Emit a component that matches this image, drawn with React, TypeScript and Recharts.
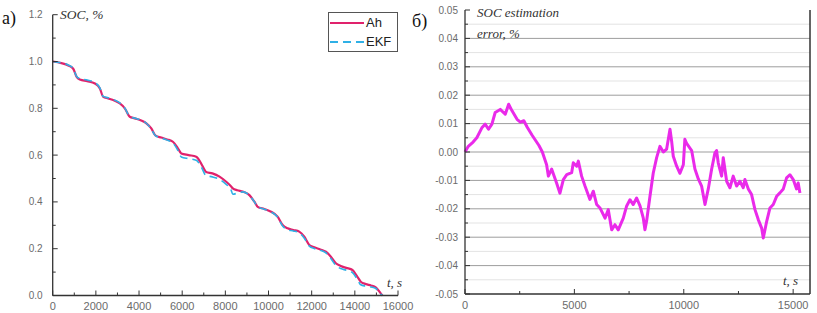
import { LineChart, Line, XAxis, YAxis, ReferenceLine } from 'recharts';

// panel a) SOC, Ah counting vs EKF
const socTime = [
  0, 400, 720, 950, 1110, 1260, 1600, 1955, 2185, 2340, 2570, 2850, 3110, 3340, 3570, 3800,
  4100, 4340, 4570, 4770, 5030, 5300, 5570, 5800, 5960, 6300, 6650, 6880, 7110, 7400, 7730,
  8040, 8250, 8345, 8550, 8805, 9115, 9345, 9500, 9800, 10120, 10420, 10655, 10885, 11150,
  11425, 11660, 11890, 12120, 12400, 12660, 12890, 13120, 13350, 13600, 13890, 14120, 14275,
  14505, 14750, 14970, 15200, 15280,
];
const socAh = [
  1.0, 0.993, 0.983, 0.969, 0.934, 0.923, 0.916, 0.906, 0.885, 0.849, 0.842, 0.833, 0.821, 0.8, 0.764, 0.757,
  0.748, 0.736, 0.714, 0.683, 0.675, 0.667, 0.657, 0.629, 0.607, 0.6, 0.593, 0.564, 0.528, 0.522, 0.508,
  0.486, 0.468, 0.458, 0.45, 0.444, 0.429, 0.401, 0.379, 0.37, 0.358, 0.337, 0.301, 0.287, 0.28,
  0.273, 0.251, 0.216, 0.206, 0.197, 0.187, 0.166, 0.138, 0.126, 0.118, 0.109, 0.08, 0.059,
  0.049, 0.043, 0.035, 0.009, 0.0,
];
const socEkf = [
  1.0, 0.994, 0.985, 0.97, 0.936, 0.927, 0.921, 0.91, 0.887, 0.851, 0.845, 0.836, 0.823, 0.801, 0.765, 0.758,
  0.749, 0.736, 0.711, 0.682, 0.673, 0.664, 0.652, 0.62, 0.592, 0.585, 0.578, 0.55, 0.512, 0.507, 0.496,
  0.475, 0.455, 0.433, 0.437, 0.443, 0.428, 0.4, 0.378, 0.369, 0.357, 0.335, 0.297, 0.281, 0.276,
  0.268, 0.245, 0.211, 0.201, 0.193, 0.182, 0.158, 0.128, 0.115, 0.108, 0.098, 0.068, 0.046,
  0.04, 0.036, 0.03, 0.006, 0.0,
];
const socXTicks = [0, 1000, 2000, 3000, 4000, 5000, 6000, 7000, 8000, 9000, 10000, 11000, 12000, 13000, 14000, 15000, 16000];
const socYTicks = [0, 0.1, 0.2, 0.3, 0.4, 0.5, 0.6, 0.7, 0.8, 0.9, 1.0, 1.1, 1.2];

// panel б) estimation error
const errTime = [
  0, 150, 370, 540, 770, 920, 1075, 1230, 1380, 1610, 1840, 1995, 2150, 2380, 2530, 2690, 2845,
  3075, 3380, 3535, 3730, 3810, 3960, 4190, 4340, 4495, 4650, 4875, 4950, 5105, 5180, 5330,
  5485, 5710, 5865, 6020, 6170, 6400, 6550, 6705, 6855, 7005, 7235, 7390, 7540, 7690, 7845,
  8000, 8150, 8225, 8300, 8455, 8605, 8760, 8910, 9065, 9215, 9370, 9450, 9520, 9675, 9825,
  9980, 10050, 10130, 10360, 10510, 10665, 10815, 10970, 11120, 11275, 11425, 11500, 11575,
  11730, 11805, 11960, 12110, 12260, 12415, 12565, 12720, 12795, 12950, 13100, 13255, 13405,
  13560, 13635, 13790, 13940, 14090, 14245, 14395, 14550, 14700, 14850, 15005, 15155, 15230, 15310,
];
const errValue = [
  0.0, 0.002, 0.0035, 0.005, 0.0085, 0.0098, 0.008, 0.0098, 0.0139, 0.015, 0.0133, 0.0168, 0.0145, 0.0115, 0.0105, 0.011, 0.0087,
  0.0058, 0.0023, 0.0, -0.0045, -0.0085, -0.006, -0.011, -0.0145, -0.0097, -0.008, -0.0073, -0.0038, -0.005, -0.0032, -0.0085,
  -0.012, -0.0167, -0.0138, -0.0185, -0.0197, -0.0233, -0.0203, -0.0274, -0.0256, -0.0274, -0.0233, -0.019, -0.0168, -0.0185, -0.0162,
  -0.019, -0.0233, -0.0274, -0.0244, -0.0156, -0.0074, -0.002, 0.002, 0.0, 0.001, 0.008, 0.0035, -0.0015, -0.005, -0.0075,
  -0.0045, 0.0045, 0.003, 0.0005, -0.006, -0.0095, -0.012, -0.0185, -0.013, -0.006, -0.0003, 0.0005, -0.0038,
  -0.0085, -0.002, -0.0103, -0.0126, -0.0085, -0.012, -0.0103, -0.0126, -0.0097, -0.013, -0.015, -0.0203, -0.0238,
  -0.0268, -0.0303, -0.0244, -0.0197, -0.0185, -0.0156, -0.0144, -0.013, -0.0091, -0.008, -0.0097, -0.013, -0.0109, -0.0144,
];
const errXTicks = [0, 2500, 5000, 7500, 10000, 12500, 15000];
const errYTicks = [
  -0.05, -0.045, -0.04, -0.035, -0.03, -0.025, -0.02, -0.015, -0.01, -0.005, 0,
  0.005, 0.01, 0.015, 0.02, 0.025, 0.03, 0.035, 0.04, 0.045, 0.05,
];
const errMajorGrid = [-0.04, -0.03, -0.02, -0.01, 0, 0.01, 0.02, 0.03, 0.04];
const errMinorGrid = [-0.045, -0.035, -0.025, -0.015, -0.005, 0.005, 0.015, 0.025, 0.035, 0.045];
const ERR_T_MAX = 15770;

const socData = socTime.map((t, i) => ({ t, ah: socAh[i], ekf: socEkf[i] }));
const errData = errTime.map((t, i) => ({ t, err: errValue[i] }));

const AXIS = '#333';
const LABEL = '#6b6b6b';
const SANS = '"Liberation Sans", Arial, sans-serif';
const SERIF = '"Liberation Serif", "Times New Roman", serif';

function SocXTick({ x, y, payload }: any) {
  const v = payload.value;
  const major = v % 2000 === 0;
  return (
    <g>
      <line x1={x} x2={x} y1={y} y2={y - (major ? 5 : 3)} stroke={AXIS} />
      {major && (
        <text x={x} y={y + 14} textAnchor="middle" fontSize={11} fontFamily={SANS} fill={LABEL}>{v}</text>
      )}
    </g>
  );
}

function SocYTick({ x, y, payload }: any) {
  const v = payload.value;
  const major = Math.round(v * 10) % 2 === 0;
  return (
    <g>
      <line x1={x} x2={x + (major ? 5 : 3)} y1={y} y2={y} stroke={AXIS} />
      {major && (
        <text x={x - 10} y={y + 3.5} textAnchor="end" fontSize={10} fontFamily={SANS} fill={LABEL}>{v.toFixed(1)}</text>
      )}
    </g>
  );
}

function ErrXTick({ x, y, payload }: any) {
  const v = payload.value;
  const major = v % 5000 === 0;
  return (
    <g>
      <line x1={x} x2={x} y1={y} y2={y - (major ? 5 : 3)} stroke={AXIS} />
      {major && (
        <text x={x} y={y + 15} textAnchor="middle" fontSize={11} fontFamily={SANS} fill={LABEL}>{v}</text>
      )}
    </g>
  );
}

function ErrYTick({ x, y, payload }: any) {
  const v = payload.value;
  const major = Math.abs(Math.round(v * 1000)) % 10 === 0;
  return (
    <g>
      <line x1={x} x2={x + (major ? 5 : 3)} y1={y} y2={y} stroke={AXIS} />
      {major && (
        <text x={x - 7} y={y + 3.5} textAnchor="end" fontSize={10} fontFamily={SANS} fill={LABEL}>{v.toFixed(2)}</text>
      )}
    </g>
  );
}

function ErrRightTick({ x, y, payload }: any) {
  const v = payload.value;
  const major = Math.abs(Math.round(v * 1000)) % 10 === 0;
  return <line x1={x} x2={x - (major ? 5 : 3)} y1={y} y2={y} stroke={AXIS} />;
}

function SocLegend() {
  return (
    <div style={{ position: 'absolute', left: 328, top: 12, width: 68, height: 38, border: '1px solid #555', background: '#fff', fontFamily: SANS, fontSize: 13, color: '#222' }}>
      <div style={{ display: 'flex', alignItems: 'center', height: 19 }}>
        <svg width={36} height={6} style={{ marginLeft: 1 }}>
          <line x1={0} x2={34} y1={3} y2={3} stroke="#e0226c" strokeWidth={2} />
        </svg>
        <span>Ah</span>
      </div>
      <div style={{ display: 'flex', alignItems: 'center', height: 19 }}>
        <svg width={36} height={6} style={{ marginLeft: 1 }}>
          <line x1={0} x2={34} y1={3} y2={3} stroke="#2fb0e6" strokeWidth={2} strokeDasharray="8 5" />
        </svg>
        <span>EKF</span>
      </div>
    </div>
  );
}

export default function App() {
  return (
    <div style={{ position: 'absolute', left: 0, top: 0, width: 817, height: 313, background: '#fff', overflow: 'hidden' }}>
      <div style={{ position: 'absolute', left: 0, top: 0 }}>
        <LineChart width={420} height={313} data={socData} margin={{ top: 14.7, right: 22, bottom: 0, left: 0 }}>
          <XAxis
            dataKey="t"
            type="number"
            domain={[0, 16000]}
            ticks={socXTicks}
            interval={0}
            height={17.5}
            tickSize={0}
            tickMargin={0}
            tickLine={false}
            tick={SocXTick}
            axisLine={{ stroke: AXIS, strokeWidth: 1.3 }}
          />
          <YAxis
            type="number"
            domain={[0, 1.2]}
            ticks={socYTicks}
            interval={0}
            width={52.7}
            tickSize={0}
            tickMargin={0}
            tickLine={false}
            tick={SocYTick}
            axisLine={{ stroke: AXIS, strokeWidth: 1.3 }}
          />
          <Line dataKey="ah" type="monotone" stroke="#e0226c" strokeWidth={2.2} dot={false} isAnimationActive={false} />
          <Line dataKey="ekf" type="monotone" stroke="#2fb0e6" strokeWidth={1.6} strokeDasharray="8 5" dot={false} isAnimationActive={false} />
        </LineChart>
      </div>
      <SocLegend />
      <div style={{ position: 'absolute', left: 410, top: 0 }}>
        <LineChart width={407} height={313} data={errData} margin={{ top: 10, right: 6, bottom: 0, left: 0 }}>
          {errMinorGrid.map((v) => (
            <ReferenceLine key={'m' + v} y={v} stroke="#e3e3e3" strokeWidth={1} />
          ))}
          {errMajorGrid.map((v) => (
            <ReferenceLine key={'M' + v} y={v} stroke="#9d9d9d" strokeWidth={1} />
          ))}
          <ReferenceLine x={ERR_T_MAX} stroke={AXIS} strokeWidth={1} />
          <XAxis
            dataKey="t"
            type="number"
            domain={[0, ERR_T_MAX]}
            ticks={errXTicks}
            interval={0}
            height={19}
            tickSize={0}
            tickMargin={0}
            tickLine={false}
            tick={ErrXTick}
            axisLine={{ stroke: AXIS, strokeWidth: 1.3 }}
          />
          <YAxis
            type="number"
            domain={[-0.05, 0.05]}
            ticks={errYTicks}
            interval={0}
            width={55}
            tickSize={0}
            tickMargin={0}
            tickLine={false}
            tick={ErrYTick}
            axisLine={{ stroke: AXIS, strokeWidth: 1.3 }}
          />
          <YAxis
            yAxisId="r"
            orientation="right"
            type="number"
            domain={[-0.05, 0.05]}
            ticks={errYTicks}
            interval={0}
            width={1}
            tickSize={0}
            tickMargin={0}
            tickLine={false}
            tick={ErrRightTick}
            axisLine={{ stroke: AXIS, strokeWidth: 1 }}
          />
          <Line dataKey="err" type="linear" stroke="#ea2aea" strokeWidth={3} strokeLinejoin="round" dot={false} isAnimationActive={false} />
        </LineChart>
      </div>
      <svg width={817} height={313} style={{ position: 'absolute', left: 0, top: 0, pointerEvents: 'none' }}>
        <text x={2} y={24} fontSize={18} fontFamily={SERIF} fill="#111">а)</text>
        <text x={412} y={27} fontSize={18} fontFamily={SERIF} fill="#111">б)</text>
        <text x={60} y={19} fontSize={13.5} fontStyle="italic" fontFamily={SERIF} fill="#333">SOC, %</text>
        <text x={387} y={287} fontSize={13} fontStyle="italic" fontFamily={SERIF} fill="#333">t, s</text>
        <text x={477} y={17} fontSize={13} fontStyle="italic" fontFamily={SERIF} fill="#333">SOC estimation</text>
        <text x={477} y={38} fontSize={13} fontStyle="italic" fontFamily={SERIF} fill="#333">error, %</text>
        <text x={783} y={285} fontSize={13} fontStyle="italic" fontFamily={SERIF} fill="#333">t, s</text>
      </svg>
    </div>
  );
}
